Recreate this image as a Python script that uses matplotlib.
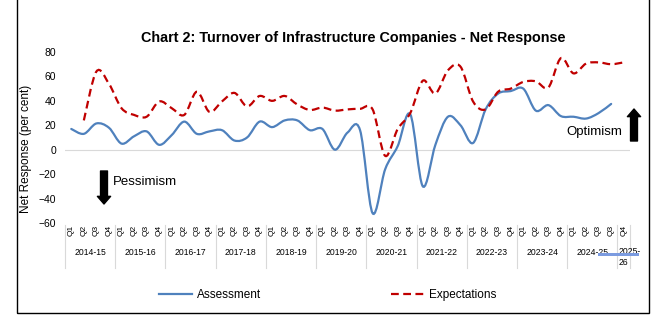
import numpy as np
import matplotlib
matplotlib.use('Agg')
import matplotlib.pyplot as plt
from matplotlib.path import Path
from matplotlib.patches import PathPatch, FancyArrowPatch, Rectangle
from matplotlib.lines import Line2D
from matplotlib.transforms import blended_transform_factory

plt.rcParams['font.family'] = ['Liberation Sans', 'DejaVu Sans']

# data
years = ['2014-15', '2015-16', '2016-17', '2017-18', '2018-19', '2019-20',
         '2020-21', '2021-22', '2022-23', '2023-24', '2024-25']
last_year = '2025-\n26'
quarters = ['Q1', 'Q2', 'Q3', 'Q4'] * 10 + ['Q1', 'Q2', 'Q3', 'Q3', 'Q4']

# Assessment: from 2014-15 Q1
assessment = [17, 13, 21.5, 18, 5, 11, 15, 4, 12, 23, 13, 15,
              16, 7.5, 10, 23, 18.5, 24, 24, 16, 17, 0, 14, 16,
              -52, -16, 3, 29, -30, 4, 27, 20, 5.5, 33, 46, 48,
              50, 32, 36.5, 27.5, 27, 25.5, 30, 37.5]
# Expectations: from 2014-15 Q2
expectations = [24, 64, 54, 34, 28.5, 27, 39.5, 34, 28.5, 47.5, 31,
                39.5, 46.5, 35.5, 44, 40, 44, 37, 32.5, 34.5, 32, 33,
                33.5, 33, -5, 17, 30, 56.5, 46, 65, 68, 39.5, 33,
                47.5, 50, 55.5, 56, 51, 75, 62.5, 70.5, 71.5, 70, 71.5]

blue = '#4f81bd'
red = '#c00000'


def smooth_path(xs, ys):
    # smoothed line like the spreadsheet one (bezier through the points)
    pts = np.column_stack([xs, ys]).astype(float)
    n = len(pts)
    verts = [pts[0]]
    codes = [Path.MOVETO]
    for k in range(n - 1):
        p0 = pts[k - 1] if k > 0 else pts[k]
        p1 = pts[k]
        p2 = pts[k + 1]
        p3 = pts[k + 2] if k + 2 < n else pts[k + 1]
        verts += [p1 + (p2 - p0) / 6, p2 - (p3 - p1) / 6, p2]
        codes += [Path.CURVE4] * 3
    return Path(verts, codes)


fig = plt.figure(figsize=(6.64, 3.31), dpi=100)
ax = fig.add_axes([65 / 664, 1 - 223 / 331, 565 / 664, 171 / 331])
ax.set_xlim(-0.5, len(quarters) - 0.5)
ax.set_ylim(-60, 80)
ax.set_yticks(range(-60, 81, 20))
ax.axhline(0, color='#d9d9d9', lw=0.8, zorder=1)

xa = np.arange(len(assessment))
xe = np.arange(1, len(expectations) + 1)
ax.add_patch(PathPatch(smooth_path(xa, assessment), fill=False,
                       edgecolor=blue, lw=1.6, capstyle='round', zorder=3))
ax.add_patch(PathPatch(smooth_path(xe, expectations), fill=False,
                       edgecolor=red, lw=1.6, linestyle=(0, (3.5, 2)), zorder=3))

for s in ax.spines.values():
    s.set_visible(False)

ax.set_xticks(range(len(quarters)))
ax.set_xticklabels(quarters, rotation=90, fontsize=6)
ax.tick_params(axis='x', length=0, pad=1.5)
ax.tick_params(axis='y', length=0, pad=6.5, labelsize=7.5)

ax.set_ylabel('Net Response (per cent)', fontsize=8.5)
ax.yaxis.set_label_coords(-0.058, 0.433)

# year groups under the quarters
trans = blended_transform_factory(ax.transData, ax.transAxes)
bounds = [-0.5 + 4 * k for k in range(12)] + [len(quarters) - 0.5]
for b in bounds:
    ax.plot([b, b], [-0.01, -0.263], transform=trans, color='#d9d9d9',
            lw=0.8, clip_on=False)
for k, y in enumerate(years):
    ax.text(1.5 + 4 * k, -0.17, y, transform=trans, ha='center',
            va='center', fontsize=6.2)
ax.text(43.6, -0.14, last_year, transform=trans, ha='left', va='top',
        fontsize=6.2, linespacing=1.25)

# highlight bar seen under the last year labels
fig.add_artist(Rectangle((598 / 664, 1 - 256 / 331), 41 / 664, 3.5 / 331,
                         transform=fig.transFigure, color='#7b9be0', lw=0,
                         zorder=10))

fig.text(353 / 664, 1 - 38 / 331,
         'Chart 2: Turnover of Infrastructure Companies - Net Response',
         ha='center', va='center', fontsize=10.4, fontweight='bold')

# arrows
astyle = 'simple,head_width=0.95,head_length=0.55,tail_width=0.5'
fig.add_artist(FancyArrowPatch((104 / 664, 1 - 171 / 331), (104 / 664, 1 - 204 / 331),
                               transform=fig.transFigure, arrowstyle=astyle,
                               mutation_scale=10, color='black', shrinkA=0, shrinkB=0))
fig.add_artist(FancyArrowPatch((634 / 664, 1 - 141 / 331), (634 / 664, 1 - 109 / 331),
                               transform=fig.transFigure, arrowstyle=astyle,
                               mutation_scale=10, color='black', shrinkA=0, shrinkB=0))
fig.text(113 / 664, 1 - 182 / 331, 'Pessimism', va='center', fontsize=9.5)
fig.text(622 / 664, 1 - 132 / 331, 'Optimism', ha='right', va='center', fontsize=9.5)

handles = [Line2D([], [], color=blue, lw=1.6),
           Line2D([], [], color=red, lw=1.6, linestyle=(0, (3.5, 2)))]
fig.legend(handles, ['Assessment', 'Expectations'], loc='center left',
           bbox_to_anchor=(159 / 664, 1 - 295 / 331), ncol=2, frameon=False,
           fontsize=8.5, handlelength=2.8, handletextpad=0.4,
           columnspacing=11, borderpad=0, borderaxespad=0)

# chart border
fig.add_artist(Rectangle((17 / 664, 1 - 313 / 331), 632 / 664, 320 / 331,
                         transform=fig.transFigure, fill=False,
                         edgecolor='black', lw=1, clip_on=False))

fig.savefig('out.png', dpi=100)
